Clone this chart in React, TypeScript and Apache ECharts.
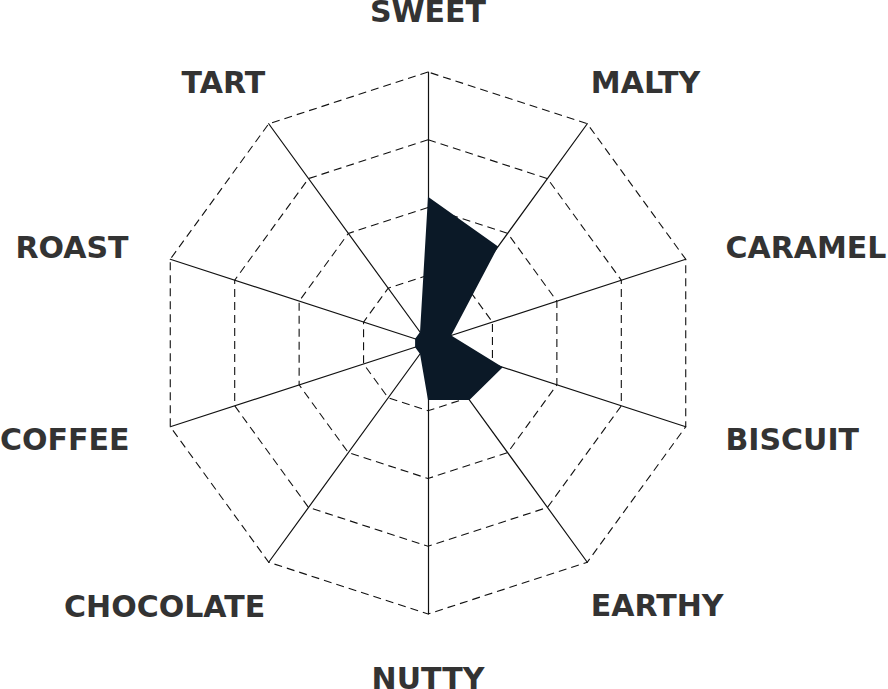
import React, { useEffect, useRef } from 'react';
import * as echarts from 'echarts';

// flavour axes, clockwise from the top
const flavours = ['SWEET', 'MALTY', 'CARAMEL', 'BISCUIT', 'EARTHY', 'NUTTY', 'CHOCOLATE', 'COFFEE', 'ROAST', 'TART'];
// intensity on a 0-100 scale, same order
const intensity = [54, 44, 9, 29, 26, 21, 5, 5, 5, 5];
const maxValue = 100;

// label nudges [top, right, bottom, left] so names sit where the reference has them
const labelPad: Record<string, number[]> = {
  SWEET: [0, 0, 40, 0],
  MALTY: [0, 0, 72, 0],
  CARAMEL: [0, 0, 20, 34],
  BISCUIT: [22, 0, 0, 34],
  EARTHY: [76, 0, 0, 0],
  NUTTY: [43, 0, 0, 0],
  CHOCOLATE: [78, 0, 0, 0],
  COFFEE: [22, 35, 0, 0],
  ROAST: [0, 36, 20, 0],
  TART: [0, 0, 72, 0]
};

const App: React.FC = () => {
  const chartRef = useRef<HTMLDivElement>(null);

  useEffect(() => {
    if (!chartRef.current) return;
    const chart = echarts.init(chartRef.current, undefined, { renderer: 'svg' });

    // echarts lays radar indicators out counter-clockwise, so flip the order after the first
    const order = [0, ...flavours.map((_, i) => i).slice(1).reverse()];

    const rich: Record<string, any> = {};
    flavours.forEach((name, i) => {
      rich['k' + i] = { padding: labelPad[name] };
    });

    chart.setOption({
      animation: false,
      backgroundColor: '#ffffff',
      radar: {
        center: [428, 343],
        radius: 271,
        startAngle: 90,
        splitNumber: 4,
        shape: 'polygon',
        nameGap: 6,
        indicator: order.map(i => ({ name: flavours[i], max: maxValue })),
        axisName: {
          color: '#333333',
          fontFamily: 'DejaVu Sans',
          fontWeight: 'bold',
          fontSize: 30,
          formatter: (name: string) => `{k${flavours.indexOf(name)}|${name}}`,
          rich
        },
        axisLine: { lineStyle: { color: '#111111', width: 1.2 } },
        splitLine: { lineStyle: { color: '#111111', width: 1.1, type: [8, 5] } },
        splitArea: { show: false },
        axisTick: { show: false },
        axisLabel: { show: false }
      },
      series: [{
        type: 'radar',
        symbol: 'none',
        lineStyle: { width: 0 },
        areaStyle: { color: '#0b1927', opacity: 1 },
        data: [{ value: order.map(i => intensity[i]), name: 'Flavour' }]
      }]
    });

    return () => chart.dispose();
  }, []);

  return (
    <div style={{ position: 'absolute', left: 0, top: 0, width: 888, height: 689, background: '#fff' }}>
      <div ref={chartRef} style={{ width: '100%', height: '100%' }} />
    </div>
  );
};

export default App;
